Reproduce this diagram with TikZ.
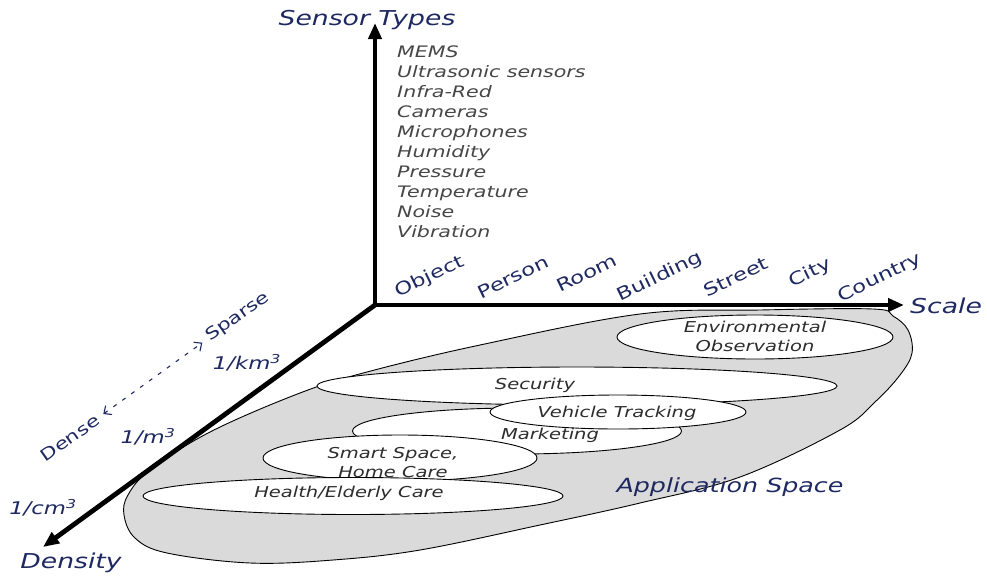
\documentclass[tikz,border=0pt]{standalone}
\usepackage{fontspec}
\setmainfont{DejaVu Sans}[FakeStretch=1.3]
\usetikzlibrary{arrows.meta,shapes.geometric}
\definecolor{nn}{RGB}{31, 41, 97}
\definecolor{gg}{RGB}{218, 218, 218}
\definecolor{tt}{RGB}{45, 45, 45}
\definecolor{ll}{RGB}{70, 70, 70}

\begin{document}
\begin{tikzpicture}[every node/.style={inner sep=0pt},
ax/.style={line width=4.8pt, line cap=rect, -{Triangle[length=16pt, width=13pt]}},
tl/.style={font=\fontsize{20.5}{24}\selectfont\itshape, text=nn},
sc/.style={font=\fontsize{17.5}{20}\selectfont, text=nn, rotate=26},
dn/.style={font=\fontsize{17.5}{20}\selectfont\itshape, text=nn},
ds/.style={font=\fontsize{16.5}{20}\selectfont, text=nn, rotate=35, inner sep=3pt},
ap/.style={ellipse, draw=black, fill=white, line width=0.9pt},
lb/.style={font=\fontsize{15}{19}\selectfont\itshape, text=tt, align=center}]
\useasboundingbox (0pt, 0pt) rectangle (987pt, -576pt);
% application space
\draw [fill=gg, line width=0.9pt] plot [smooth cycle, tension=0.6] coordinates {(873pt, -309pt) (760pt, -310pt) (640pt, -314pt) (480pt, -345pt) (367pt, -372pt) (300pt, -393pt) (210pt, -432pt) (150pt, -470pt) (128pt, -495pt) (124pt, -515pt) (135pt, -538pt) (167pt, -553pt) (250pt, -563pt) (333pt, -560pt) (420pt, -550pt) (540pt, -525pt) (640pt, -503pt) (740pt, -477pt) (840pt, -430pt) (875pt, -402pt) (900pt, -375pt) (912pt, -353pt) (908pt, -330pt) (893pt, -316pt)};
\node (secu) [ap, minimum width=520pt, minimum height=38pt] at (577pt, -386pt) {};
\node (mark) [ap, minimum width=329pt, minimum height=46pt] at (517pt, -431pt) {};
\node (vehi) [ap, minimum width=256pt, minimum height=34pt] at (618pt, -412pt) {};
\node (home) [ap, minimum width=274pt, minimum height=46pt] at (400pt, -458pt) {};
\node (heal) [ap, minimum width=420pt, minimum height=37pt] at (353pt, -496pt) {};
\node (envi) [ap, minimum width=276pt, minimum height=44pt] at (755pt, -337pt) {};
\node (secu-t) [lb] at (535pt, -385pt) {Security};
\node (mark-t) [lb] at (550pt, -435pt) {Marketing};
\node (vehi-t) [lb] at (617pt, -413pt) {Vehicle Tracking};
\node (home-t) [lb] at (393pt, -463pt) {Smart Space,\\Home Care};
\node (heal-t) [lb] at (349pt, -493pt) {Health/Elderly Care};
\node (envi-t) [lb] at (755pt, -336pt) {Environmental\\Observation};
\node (apsp) [tl, font=\fontsize{19.5}{24}\selectfont\itshape] at (730pt, -487pt) {Application Space};
% axes
\coordinate (o) at (375pt, -305pt);
\coordinate (up) at (375pt, -23pt);
\coordinate (rt) at (904pt, -305pt);
\coordinate (dw) at (43pt, -547pt);
\draw [ax] (o) to (up);
\draw [ax] (o) to (rt);
\draw [ax] (o) to (dw);
\node (st) [tl] at (367pt, -20pt) {Sensor Types};
\node (sl) [tl, anchor=west] at (910pt, -306pt) {Scale};
\node (dy) [tl] at (71pt, -563pt) {Density};
\node (ty) [anchor=north west, align=left, font=\fontsize{15.8}{19.9}\selectfont\itshape, text=ll] at (397pt, -46pt) {MEMS\\Ultrasonic sensors\\Infra-Red\\Cameras\\Microphones\\Humidity\\Pressure\\Temperature\\Noise\\Vibration};
% scale
\node (s1) [sc] at (430pt, -277pt) {Object};
\node (s2) [sc] at (513pt, -277pt) {Person};
\node (s3) [sc] at (587pt, -273pt) {Room};
\node (s4) [sc] at (660pt, -277pt) {Building};
\node (s5) [sc] at (736pt, -277pt) {Street};
\node (s6) [sc] at (810pt, -273pt) {City};
\node (s7) [sc] at (880pt, -278pt) {Country};
% density
\node (d1) [dn] at (247pt, -363pt) {1/km\textsuperscript{3}};
\node (d2) [dn] at (148pt, -437pt) {1/m\textsuperscript{3}};
\node (d3) [dn] at (43pt, -508pt) {1/cm\textsuperscript{3}};
\node (dens) [ds] at (70pt, -438pt) {Dense};
\node (spar) [ds] at (238pt, -317pt) {Sparse};
\draw [nn, line width=1.1pt, dash pattern=on 4pt off 7pt, {Straight Barb[length=6pt, width=11pt]}-{Straight Barb[length=6pt, width=11pt]}, shorten <=4pt, shorten >=4pt] (dens) to (spar);
\end{tikzpicture}
\end{document}
